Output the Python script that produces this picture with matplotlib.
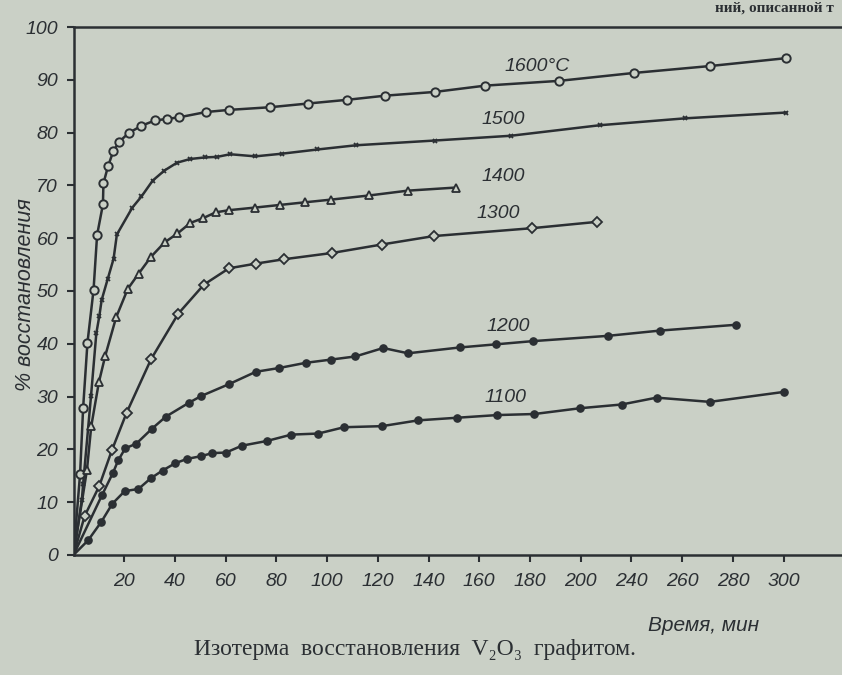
import matplotlib
matplotlib.use("Agg")
import matplotlib.pyplot as plt

# ---- data (x in axis minutes as drawn, y = % восстановления) ----
x1600 = [0, 2.6, 3.8, 5.5, 7.9, 9.3, 11.6, 11.8, 13.6, 15.7, 18.1, 21.7, 26.8, 32.1, 37.0, 41.7,
         52.3, 61.3, 77.4, 92.3, 107.7, 123.0, 142.4, 162.4, 191.5, 221.0, 250.8, 281.0]
y1600 = [0, 15.4, 27.9, 40.2, 50.2, 60.6, 66.4, 70.4, 73.6, 76.5, 78.3, 79.9, 81.3, 82.3, 82.6, 82.9,
         83.9, 84.3, 84.8, 85.5, 86.2, 87.0, 87.7, 88.9, 89.8, 91.3, 92.6, 94.1]

x1500 = [0, 3.3, 3.8, 6.9, 9.0, 10.2, 11.1, 13.5, 15.8, 17.1, 23.2, 26.8, 31.2, 35.8, 40.8, 46.0,
         51.8, 56.6, 61.8, 71.7, 82.1, 96.2, 111.4, 142.5, 172.4, 207.6, 241.1, 281.0]
y1500 = [0, 10.5, 13.5, 30.1, 42.0, 45.3, 48.3, 52.3, 56.1, 60.7, 65.8, 67.9, 70.9, 72.8, 74.3, 75.0,
         75.3, 75.4, 75.9, 75.5, 76.0, 76.8, 77.6, 78.5, 79.4, 81.4, 82.7, 83.8]

x1400 = [0, 5.3, 7.0, 10.0, 12.5, 16.8, 21.4, 25.7, 30.6, 35.9, 41.0, 46.1, 51.1, 56.1, 61.2, 71.6,
         81.4, 91.3, 101.4, 116.7, 131.7, 151.0]
y1400 = [0, 16.1, 24.4, 32.7, 37.7, 45.0, 50.4, 53.3, 56.5, 59.2, 60.9, 62.9, 63.8, 64.9, 65.3, 65.8,
         66.3, 66.8, 67.3, 68.1, 69.0, 69.6]

x1300 = [0, 4.4, 10.1, 15.1, 20.9, 30.6, 41.3, 51.4, 61.3, 72.1, 82.8, 101.9, 121.5, 142.0, 180.9, 206.5]
y1300 = [0, 7.4, 13.0, 19.8, 26.9, 37.1, 45.7, 51.2, 54.3, 55.2, 56.0, 57.2, 58.8, 60.4, 61.9, 63.1]

x1200 = [0, 11.3, 15.6, 17.6, 20.4, 24.8, 30.9, 36.4, 45.4, 50.3, 61.5, 71.9, 80.9, 91.6, 101.4, 111.1,
         122.1, 131.9, 152.2, 166.6, 181.0, 210.6, 231.2, 261.2]
y1200 = [0, 11.4, 15.6, 17.9, 20.2, 21.1, 23.9, 26.2, 28.8, 30.1, 32.4, 34.7, 35.4, 36.4, 37.0, 37.6,
         39.2, 38.2, 39.3, 39.9, 40.5, 41.5, 42.5, 43.6]

x1100 = [0, 5.8, 11.0, 15.3, 20.2, 25.6, 30.4, 35.1, 40.2, 44.8, 50.1, 54.8, 60.1, 66.4, 76.3, 85.9,
         96.5, 106.7, 121.6, 135.9, 151.4, 167.1, 181.7, 199.8, 216.1, 229.9, 250.9, 280.3]
y1100 = [0, 2.8, 6.3, 9.7, 12.1, 12.5, 14.5, 16.0, 17.4, 18.2, 18.7, 19.3, 19.4, 20.7, 21.6, 22.8,
         23.0, 24.2, 24.4, 25.5, 26.0, 26.5, 26.7, 27.8, 28.5, 29.8, 29.0, 30.9]

curve_labels = ["1600°C", "1500", "1400", "1300", "1200", "1100"]
label_x = [170, 161, 161, 159, 163, 162]
label_y = [92.6, 82.5, 71.6, 64.6, 43.3, 29.8]

xtick_pos = [20, 40, 60, 80, 100, 120, 140, 160, 180, 200, 220, 240, 260, 280]
xtick_lab = ["20", "40", "60", "80", "100", "120", "140", "160", "180", "200",
             "240", "260", "280", "300"]
ytick_pos = [0, 10, 20, 30, 40, 50, 60, 70, 80, 90, 100]

# ---- style ----
BG = "#cad0c6"
INK = "#2b2f33"
SANS = ["Liberation Sans", "DejaVu Sans"]
SERIF = ["Liberation Serif", "DejaVu Serif"]

fig = plt.figure(figsize=(8.42, 6.75), dpi=100, facecolor=BG)
ax = fig.add_axes([0.0873, 0.1778, 0.9127, 0.7822], facecolor=BG)

series = [
    (x1600, y1600, dict(marker="o", ms=6.0, mfc=BG, mec=INK, mew=1.4)),
    (x1500, y1500, dict(marker="x", ms=3.2, mfc=INK, mec=INK, mew=1.3)),
    (x1400, y1400, dict(marker="^", ms=6.0, mfc=BG, mec=INK, mew=1.3)),
    (x1300, y1300, dict(marker="D", ms=5.2, mfc=BG, mec=INK, mew=1.3)),
    (x1200, y1200, dict(marker="o", ms=5.2, mfc=INK, mec=INK, mew=1.0)),
    (x1100, y1100, dict(marker="o", ms=5.2, mfc=INK, mec=INK, mew=1.0)),
]
for xs, ys, mk in series:
    ax.plot(xs, ys, color=INK, lw=1.8, zorder=2)
    ax.plot(xs[1:], ys[1:], ls="none", zorder=3, **mk)

for t, lx, ly in zip(curve_labels, label_x, label_y):
    ax.text(lx, ly, t, fontsize=14, style="italic", family=SANS, color=INK,
            ha="left", va="center")

ax.set_xlim(0, 303)
ax.set_ylim(0, 100)
ax.set_xticks(xtick_pos)
ax.set_xticklabels(xtick_lab)
ax.set_yticks(ytick_pos)
ax.set_yticklabels([str(v) for v in ytick_pos])
for lab in ax.get_xticklabels() + ax.get_yticklabels():
    lab.set_fontsize(14)
    lab.set_style("italic")
    lab.set_family(SANS)
    lab.set_color(INK)
ax.tick_params(axis="x", direction="out", length=5, width=1.5, pad=8, colors=INK)
ax.tick_params(axis="y", direction="out", length=5, width=1.5, pad=6, colors=INK)

for s in ["left", "bottom", "top"]:
    ax.spines[s].set_color(INK)
    ax.spines[s].set_linewidth(1.8)
ax.spines["right"].set_visible(False)

fig.text(0.030, 0.563, "% восстановления", rotation=90, ha="center", va="center",
         fontsize=15.5, style="italic", family=SANS, color=INK)
fig.text(0.835, 0.074, "Время, мин", ha="center", va="center",
         fontsize=15, style="italic", family=SANS, color=INK)
fig.text(0.493, 0.038, "Изотерма  восстановления  V₂O₃  графитом.", ha="center", va="center",
         fontsize=17, family=SERIF, color=INK)
fig.text(0.99, 0.998, "ний, описанной т", ha="right", va="top",
         fontsize=11, weight="bold", family=SERIF, color=INK)

fig.savefig("out.png", dpi=100, facecolor=BG)
